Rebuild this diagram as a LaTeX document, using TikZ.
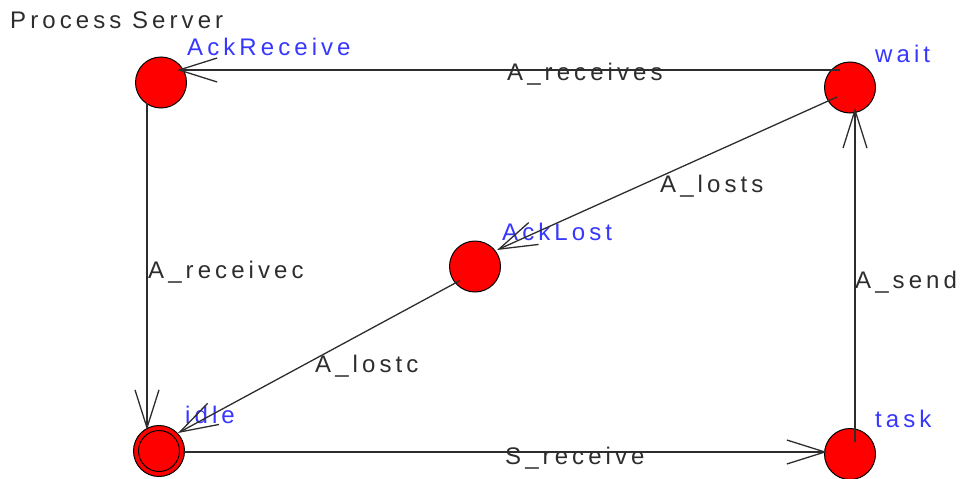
\documentclass[tikz,border=0pt]{standalone}
\usepackage{fontspec}
\setmainfont{Liberation Sans}[LetterSpace=17]
\usetikzlibrary{arrows.meta}
\definecolor{stred}{RGB}{255,0,0}
\definecolor{stblue}{RGB}{55,55,255}
\definecolor{lnk}{RGB}{45,45,45}
\tikzset{
  state/.style={circle,draw=black,line width=1pt,fill=stred,minimum size=51pt,inner sep=0pt},
  sname/.style={anchor=base west,inner sep=0pt,text=stblue,font=\fontsize{24}{28}\selectfont},
  elabel/.style={anchor=base west,inner sep=0pt,text=lnk,font=\fontsize{24}{28}\selectfont},
  trans/.style={draw=lnk,line width=1.3pt,-{Straight Barb[length=38pt,width=24pt,line width=1.3pt]}}
}
\begin{document}
\begin{tikzpicture}[x=1pt,y=-1pt]
\useasboundingbox (0,0) rectangle (964,479);
\node[elabel] (title) at (10,28) {Process Server};
% states
\node[state] (ackr) at (161,82.5) {};
\node[state] (wait) at (850,87.5) {};
\node[state] (ackl) at (475,266.5) {};
\node[state] (idle) at (159,451) {};
\draw[black,line width=1pt] (idle.center) circle (20.5pt);
\node[state] (task) at (850,454) {};
% state names
\node[sname] (nackr) at (187,55) {AckReceive};
\node[sname] (nwait) at (875,62) {wait};
\node[sname] (nackl) at (502,240) {AckLost};
\node[sname] (nidle) at (185,423) {idle};
\node[sname] (ntask) at (875,427) {task};
% transitions
\draw[trans] ([shift={(-10,-17.5)}]wait.center) -- ([shift={(16,-12.5)}]ackr.center);
\draw[trans] ([shift={(-14,20.5)}]ackr.center) -- ([shift={(-12,-21)}]idle.center);
\draw[trans] ([shift={(24,1)}]idle.center) -- ([shift={(-23,-2)}]task.center);
\draw[trans] ([shift={(5,-12)}]task.center) -- ([shift={(5,20.5)}]wait.center);
\draw[trans] ([shift={(-13,9.5)}]wait.center) -- ([shift={(22,-16.5)}]ackl.center);
\draw[trans] ([shift={(-15,14)}]ackl.center) -- ([shift={(19,-18)}]idle.center);
% labels
\node[elabel] (l1) at (507,80) {A\_receives};
\node[elabel] (l2) at (148,278) {A\_receivec};
\node[elabel] (l3) at (505,464) {S\_receive};
\node[elabel] (l4) at (855,288) {A\_send};
\node[elabel] (l5) at (660,192) {A\_losts};
\node[elabel] (l6) at (315,372) {A\_lostc};
\end{tikzpicture}
\end{document}
